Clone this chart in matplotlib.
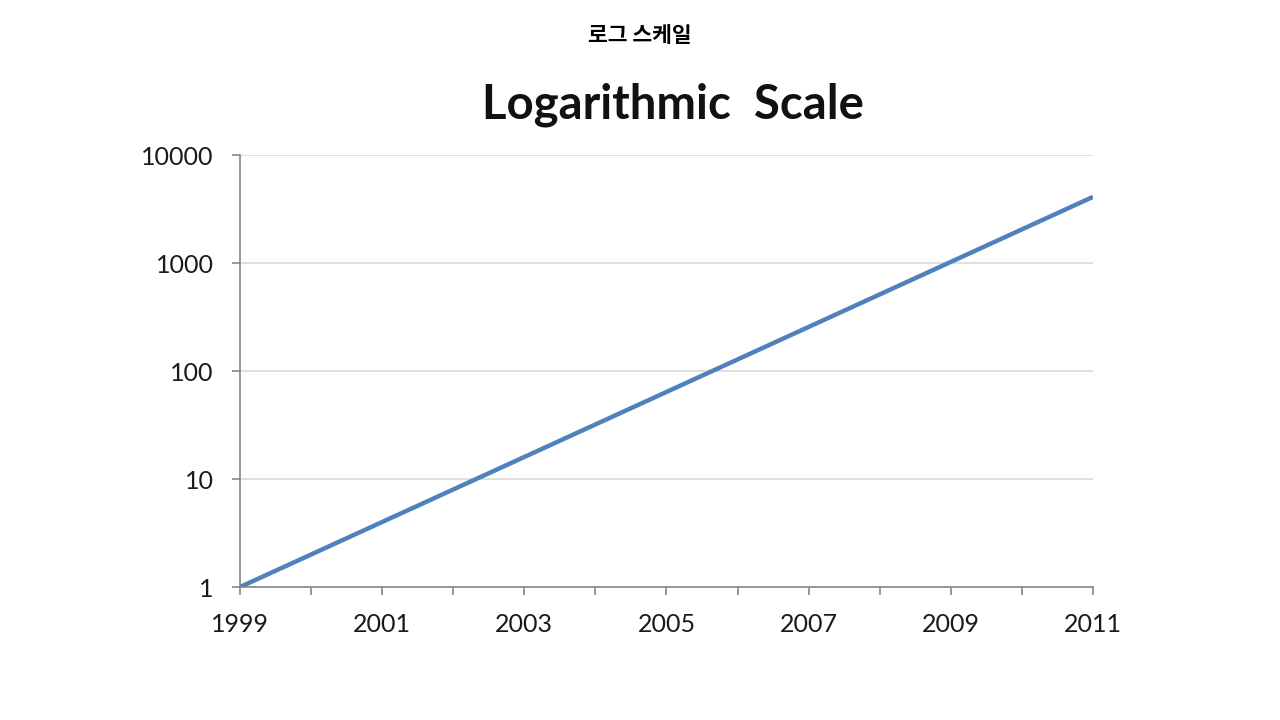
import numpy as np
import matplotlib.pyplot as plt
from matplotlib.ticker import FixedLocator, FuncFormatter, NullLocator

# values double each year
years = [1999, 2000, 2001, 2002, 2003, 2004, 2005, 2006, 2007, 2008, 2009, 2010, 2011]
values = [1, 2, 4, 8, 16, 32, 64, 128, 256, 512, 1024, 2048, 4096]
year_labels = [1999, 2001, 2003, 2005, 2007, 2009, 2011]
y_ticks = [1, 10, 100, 1000, 10000]

fig = plt.figure(figsize=(12.8, 7.2), dpi=100)
fig.text(0.5, 0.951, '로그 스케일', ha='center', va='center', fontsize=15.5,
         fontweight='bold', family=['Noto Sans CJK KR', 'DejaVu Sans'])

ax = fig.add_axes([0.1875, 0.1847, 0.6664, 0.6])
ax.plot(years, values, color='#4F81BD', linewidth=3.2, solid_capstyle='butt')
ax.set_yscale('log')
ax.set_ylim(1, 10000)
ax.set_xlim(1999, 2011)

ax.yaxis.set_major_locator(FixedLocator(y_ticks))
ax.yaxis.set_minor_locator(NullLocator())
ax.yaxis.set_major_formatter(FuncFormatter(lambda v, p: f'{int(round(v))}'))
ax.set_xticks(years)
ax.set_xticklabels([str(y) if y in year_labels else '' for y in years])

ax.grid(axis='y', color='#d9d9d9', linewidth=1.2)
ax.set_axisbelow(True)
for s in ['top', 'right']:
    ax.spines[s].set_visible(False)
for s in ['left', 'bottom']:
    ax.spines[s].set_color('#868686')
    ax.spines[s].set_linewidth(1.2)
ax.tick_params(axis='both', length=6, width=1.2, color='#868686',
               labelsize=18, labelcolor='#1a1a1a')
ax.tick_params(axis='x', pad=13)
ax.tick_params(axis='y', pad=13)
for lab in ax.get_xticklabels() + ax.get_yticklabels():
    lab.set_family(['Lato', 'DejaVu Sans'])

ax.set_title('Logarithmic  Scale', fontsize=34, fontweight='bold',
             family=['Lato', 'DejaVu Sans'], color='#111111', pad=26,
             x=0.508)

fig.savefig('out.png', dpi=100, facecolor='white')
